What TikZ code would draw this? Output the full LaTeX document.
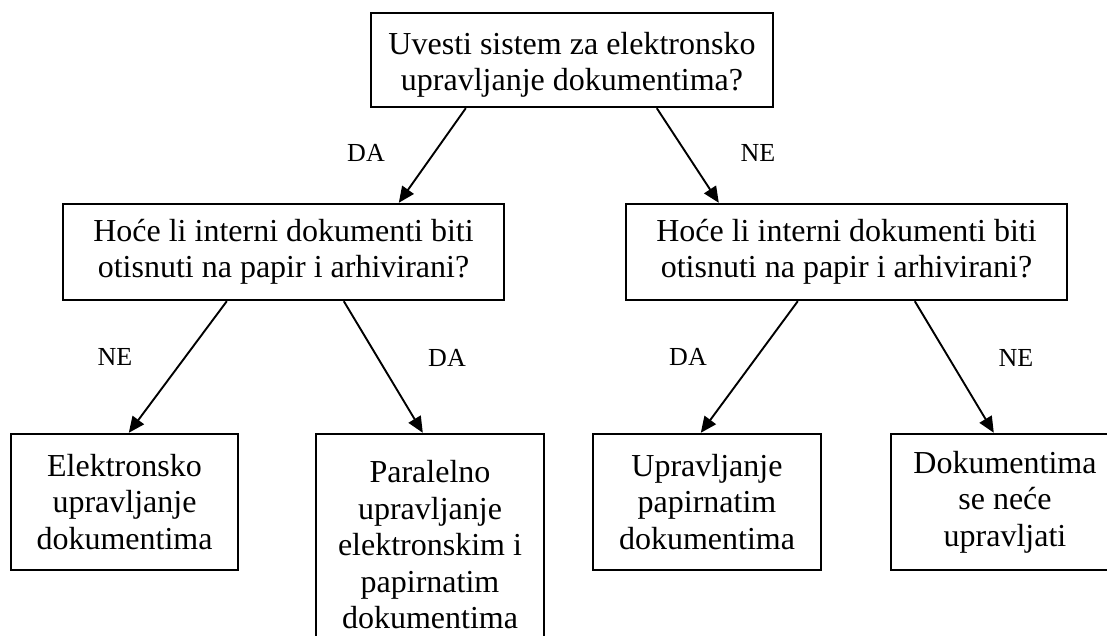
\documentclass[tikz,border=0pt]{standalone}
\usepackage{fontspec}
\setmainfont{Liberation Serif}
\usetikzlibrary{arrows.meta,calc}

\tikzset{
  box/.style={draw, line width=2.4pt, align=center, inner sep=0pt,
              font=\fontsize{32}{36.5}\selectfont},
  arr/.style={line width=1.9pt, -{Triangle[length=16pt,width=14pt]}},
  lbl/.style={font=\fontsize{26}{30}\selectfont, inner sep=0pt}
}

\begin{document}
\begin{tikzpicture}[x=1pt,y=-1pt]
  \useasboundingbox (0,0) rectangle (1107,636);
  \clip (0,0) rectangle (1107,636);

  % decision boxes
  \node[box, minimum width=402pt, minimum height=94pt] (top) at (572,60)
    {\rule{0pt}{32pt}Uvesti sistem za elektronsko\\upravljanje dokumentima?};
  \node[box, minimum width=441pt, minimum height=96pt] (ml) at (283.5,252)
    {Hoće li interni dokumenti biti\\otisnuti na papir i arhivirani?};
  \node[box, minimum width=441pt, minimum height=96pt] (mr) at (846.5,252)
    {Hoće li interni dokumenti biti\\otisnuti na papir i arhivirani?};

  % outcome boxes
  \node[box, minimum width=227pt, minimum height=136pt] (b1) at (124.5,502)
    {Elektronsko\\upravljanje\\dokumentima};
  \node[box, minimum width=228pt, minimum height=221pt, text depth=0pt] (b2) at (430,544.5)
    {Paralelno\\upravljanje\\elektronskim i\\papirnatim\\dokumentima};
  \node[box, minimum width=228pt, minimum height=136pt] (b3) at (707,502)
    {Upravljanje\\papirnatim\\dokumentima};
  \node[box, minimum width=228pt, minimum height=136pt] (b4) at (1005,502)
    {Dokumentima\\se neće\\upravljati};

  % connectors
  \draw[arr] ($(top.south west)+(96,0)$)  -- ($(ml.north west)+(337,0)$);
  \draw[arr] ($(top.south west)+(287,0)$) -- ($(mr.north west)+(94,0)$);
  \draw[arr] ($(ml.south west)+(165,0)$)  -- ($(b1.north west)+(119,0)$);
  \draw[arr] ($(ml.south west)+(282,0)$)  -- ($(b2.north west)+(108,0)$);
  \draw[arr] ($(mr.south west)+(173,0)$)  -- ($(b3.north west)+(109,0)$);
  \draw[arr] ($(mr.south west)+(290,0)$)  -- ($(b4.north west)+(104,0)$);

  % branch labels
  \node[lbl] (l1) at (366,153) {DA};
  \node[lbl] (l2) at (758,153) {NE};
  \node[lbl] (l3) at (115,357) {NE};
  \node[lbl] (l4) at (447,358) {DA};
  \node[lbl] (l5) at (688,357) {DA};
  \node[lbl] (l6) at (1016,358) {NE};
\end{tikzpicture}
\end{document}
